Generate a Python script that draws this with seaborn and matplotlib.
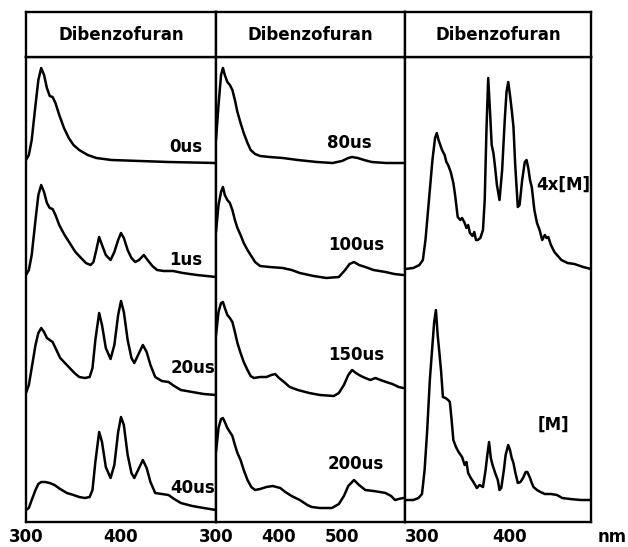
import numpy as np
import pandas as pd
import matplotlib
matplotlib.use("Agg")
import matplotlib.pyplot as plt
import seaborn as sns

# ---------------- data (wavelength in nm, relative absorbance per trace) ----------------
panel_titles = ["Dibenzofuran", "Dibenzofuran", "Dibenzofuran"]

# Panel 1
nm_0us = [300, 303, 306, 310, 313, 316, 319, 322, 325, 328, 331, 335, 340, 345, 350, 356, 365, 374, 390, 420, 450, 500]
a_0us = [3, 8, 23, 58, 83, 95, 88, 75, 67, 66, 60, 48, 35, 25, 18, 13, 8, 5, 3, 2, 1, 0]

nm_1us = [300, 303, 306, 310, 313, 316, 319, 322, 325, 328, 331, 335, 340, 346, 352, 358, 363, 368, 371, 374,
          377, 380, 384, 389, 393, 397, 400, 403, 407, 411, 415, 419, 424, 428, 433, 438, 445, 455, 465, 480, 500]
a_1us = [2, 7, 22, 57, 82, 92, 85, 74, 69, 68, 62, 52, 43, 34, 25, 19, 14, 12, 15, 27,
         40, 32, 22, 17, 25, 37, 44, 39, 27, 19, 15, 17, 22, 17, 11, 7, 6, 6, 4, 2, 0]

nm_20us = [300, 303, 306, 310, 313, 316, 319, 322, 325, 328, 332, 336, 341, 346, 351, 356, 362, 367, 370, 373,
           377, 380, 384, 389, 393, 397, 400, 403, 407, 411, 414, 418, 423, 427, 431, 436, 443, 450, 456, 463,
           475, 487, 500]
a_20us = [2, 10, 27, 50, 62, 67, 63, 57, 55, 53, 45, 37, 32, 27, 22, 18, 17, 18, 27, 55,
          82, 70, 47, 36, 50, 80, 94, 83, 55, 37, 32, 40, 50, 43, 30, 18, 14, 13, 9, 5,
          3, 1, 0]

nm_40us = [300, 303, 306, 310, 313, 316, 320, 325, 330, 336, 343, 350, 356, 362, 367, 370, 373, 377, 380, 384,
           389, 393, 397, 400, 403, 407, 411, 414, 418, 423, 427, 431, 436, 443, 450, 456, 463, 475, 487, 500]
a_40us = [0, 2, 10, 20, 26, 28, 28, 27, 25, 21, 17, 15, 13, 12, 13, 20, 48, 78, 68, 43,
          32, 45, 78, 93, 85, 55, 37, 32, 40, 50, 42, 28, 17, 16, 15, 11, 7, 4, 2, 0]

# Panel 2
nm_80us = [300, 304, 308, 311, 314, 318, 322, 326, 330, 334, 339, 344, 350, 355, 362, 370, 385, 406, 430, 460,
           485, 500, 510, 516, 525, 535, 547, 570, 597]
a_80us = [23, 58, 88, 95, 88, 81, 78, 73, 63, 51, 40, 30, 20, 13, 9, 7, 6, 5, 3, 1,
          0, 2, 5, 6, 5, 3, 1, 0, 0]

nm_100us = [300, 304, 308, 311, 314, 318, 322, 326, 330, 334, 339, 344, 350, 355, 362, 370, 385, 406, 420, 433,
            455, 475, 495, 505, 512, 519, 527, 537, 550, 569, 583, 597]
a_100us = [43, 70, 83, 88, 80, 75, 72, 65, 55, 47, 40, 32, 25, 20, 13, 9, 8, 7, 5, 2,
           -1, -3, -2, 5, 11, 13, 10, 8, 5, 3, 1, 0]

nm_150us = [300, 304, 308, 311, 314, 318, 322, 326, 330, 334, 339, 344, 350, 355, 360, 370, 380, 388, 394, 400,
            408, 417, 430, 448, 465, 487, 495, 503, 510, 516, 522, 530, 537, 545, 553, 561, 570, 580, 590, 597]
a_150us = [53, 76, 85, 86, 80, 73, 70, 66, 56, 45, 35, 26, 18, 12, 10, 11, 11, 13, 14, 10,
           6, 1, -2, -5, -7, -8, -5, 3, 13, 18, 15, 12, 10, 8, 10, 8, 6, 4, 1, 0]

nm_200us = [300, 304, 308, 311, 314, 318, 322, 326, 330, 334, 339, 344, 350, 356, 362, 370, 380, 390, 402, 410,
            420, 433, 445, 452, 465, 484, 495, 503, 510, 519, 527, 537, 550, 560, 569, 578, 584, 590, 597]
a_200us = [46, 70, 79, 80, 76, 70, 66, 62, 53, 45, 38, 28, 18, 11, 8, 9, 11, 12, 10, 6,
           2, -2, -7, -9, -10, -10, -6, 2, 12, 18, 13, 8, 7, 6, 5, 2, -2, -1, 0]

# Panel 3
nm_4xM = [281, 290, 297, 301, 304, 308, 312, 315, 317, 319, 321, 323, 326, 328, 330, 333, 336, 338, 341, 344,
          346, 349, 351, 353, 355, 358, 360, 362, 364, 367, 370, 372, 374, 376, 378, 380, 382, 384, 386, 389,
          392, 395, 397, 399, 401, 403, 405, 407, 410, 412, 415, 418, 420, 422, 424, 426, 429, 432, 435, 438,
          441, 443, 445, 448, 452, 455, 460, 467, 475, 485, 494]
a_4xM = [0, 1, 4, 9, 29, 69, 109, 131, 136, 129, 124, 119, 114, 107, 104, 97, 86, 74, 52, 49,
         51, 46, 41, 44, 36, 33, 37, 29, 29, 31, 39, 69, 139, 191, 159, 124, 116, 101, 84, 69,
         99, 149, 177, 187, 174, 159, 142, 104, 62, 64, 89, 107, 109, 101, 89, 82, 59, 46, 39, 29,
         34, 31, 32, 24, 17, 14, 9, 6, 5, 2, 0]

nm_M = [281, 290, 296, 300, 303, 306, 309, 312, 314, 316, 318, 320, 322, 324, 327, 330, 332, 334, 336, 339,
        342, 346, 349, 351, 353, 356, 359, 363, 366, 370, 373, 375, 377, 379, 381, 384, 387, 389, 391, 394,
        396, 399, 401, 403, 405, 407, 410, 413, 416, 419, 421, 424, 426, 428, 432, 436, 441, 448, 455, 461,
        470, 482, 494]
a_M = [0, 0, 2, 6, 30, 70, 120, 155, 178, 190, 165, 147, 128, 103, 102, 100, 98, 80, 60, 53,
       48, 43, 35, 38, 27, 22, 18, 12, 15, 13, 30, 45, 58, 42, 35, 27, 20, 10, 12, 30,
       45, 55, 50, 42, 37, 28, 17, 18, 22, 28, 28, 22, 17, 13, 10, 8, 6, 6, 5, 2,
       1, 0, 0]

labels_p1 = ["0us", "1us", "20us", "40us"]
labels_p2 = ["80us", "100us", "150us", "200us"]
labels_p3 = ["4x[M]", "[M]"]

xticks_p1 = [300, 400]
xticks_p2 = [300, 400, 500]
xticks_p3 = [300, 400]

# ---------------- build long table ----------------
panels = [
    (list(zip(labels_p1, [nm_0us, nm_1us, nm_20us, nm_40us], [a_0us, a_1us, a_20us, a_40us])),
     [359, 245, 127, 12], (300, 500), xticks_p1),
    (list(zip(labels_p2, [nm_80us, nm_100us, nm_150us, nm_200us], [a_80us, a_100us, a_150us, a_200us])),
     [359, 247, 134, 24], (300, 600), xticks_p2),
    (list(zip(labels_p3, [nm_4xM, nm_M], [a_4xM, a_M])),
     [253, 22], (280.5, 494), xticks_p3),
]

rows = []
for pi, (traces, offsets, _, _) in enumerate(panels):
    for (lab, nm, a), off in zip(traces, offsets):
        for x, v in zip(nm, a):
            rows.append({"panel": pi, "trace": lab, "nm": x, "y": v + off})
df = pd.DataFrame(rows)

# ---------------- figure ----------------
sns.set_theme(style="white")
plt.rcParams["font.family"] = ["DejaVu Sans"]

W, H = 628, 547
fig = plt.figure(figsize=(W / 100, H / 100), dpi=100)

xpix = [26, 216, 405, 591]
top_hdr, bot_hdr, bot_ax = 12, 57, 522
ymax = bot_ax - bot_hdr

label_pos = [
    [(486, 375, "right"), (486, 262, "right"), (499, 154, "right"), (499, 34, "right")],
    [(512, 379, "center"), (522, 277, "center"), (522, 167, "center"), (522, 58, "center")],
    [(462, 337, "center"), (451, 97, "center")],
]

FS = 12
FW = "bold"
lw_frame = 1.7
for pi, (traces, offsets, xlim, xt) in enumerate(panels):
    x0, x1 = xpix[pi], xpix[pi + 1]
    ax = fig.add_axes([x0 / W, 1 - bot_ax / H, (x1 - x0) / W, (bot_ax - bot_hdr) / H])
    sub = df[df.panel == pi]
    sns.lineplot(data=sub, x="nm", y="y", units="trace", estimator=None, sort=False,
                 color="black", linewidth=1.8, ax=ax, legend=False)
    ax.set_xlim(*xlim)
    ax.set_ylim(0, ymax)
    ax.set_xticks(xt)
    ax.set_xticklabels([str(t) for t in xt], fontweight=FW)
    ax.set_yticks([])
    ax.set_xlabel("")
    ax.set_ylabel("")
    ax.tick_params(axis="x", direction="in", length=6, width=1.4, labelsize=FS, pad=4, colors="black")
    for s in ax.spines.values():
        s.set_visible(True)
        s.set_linewidth(lw_frame)
        s.set_color("black")
    for (lx, ly, ha), (lab, _, _) in zip(label_pos[pi], traces):
        ax.text(lx, ly, lab, ha=ha, va="center", fontsize=FS, fontweight=FW, color="black")

    hax = fig.add_axes([x0 / W, 1 - bot_hdr / H, (x1 - x0) / W, (bot_hdr - top_hdr) / H])
    hax.set_xticks([])
    hax.set_yticks([])
    for s in hax.spines.values():
        s.set_visible(True)
        s.set_linewidth(lw_frame)
        s.set_color("black")
    hax.text(0.5, 0.5, panel_titles[pi], ha="center", va="center", fontsize=FS, fontweight=FW,
             color="black", transform=hax.transAxes)

fig.text(612 / W, 1 - 537 / H, "nm", ha="center", va="center", fontsize=FS, fontweight=FW, color="black")

fig.savefig("out.png", dpi=100, facecolor="white")
